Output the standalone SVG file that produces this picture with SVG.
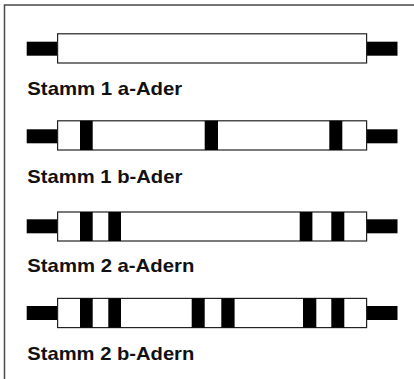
<svg xmlns="http://www.w3.org/2000/svg" width="414" height="379" viewBox="0 0 414 379">
  <style>
    .frame { fill: none; stroke: #4a4a4a; stroke-width: 1.5; }
    .tube { fill: #ffffff; stroke: #222222; stroke-width: 1.2; }
    .stub { fill: #000000; }
    .band { fill: #000000; }
    .label { font-family: "Liberation Sans", Arial, sans-serif; font-weight: bold; font-size: 19px; fill: #111111; }
  </style>
  <rect x="0" y="0" width="414" height="379" fill="#ffffff"/>
  <!-- open frame: top and left edges -->
  <path class="frame" d="M4.5 379 V5 H414"/>

  <!-- cable 1: plain -->
  <g id="stamm1a">
    <rect class="stub" x="26.7" y="41.7" width="31" height="14"/>
    <rect class="stub" x="366.5" y="41.7" width="31" height="14"/>
    <rect class="tube" x="57.6" y="33.8" width="309" height="29.2"/>
    <text class="label" x="27.3" y="95" textLength="155" lengthAdjust="spacingAndGlyphs">Stamm 1 a-Ader</text>
  </g>

  <!-- cable 2: single bands -->
  <g id="stamm1b">
    <rect class="stub" x="26.7" y="129.3" width="31" height="14"/>
    <rect class="stub" x="366.5" y="129.3" width="31" height="14"/>
    <rect class="tube" x="57.6" y="120.8" width="309" height="29.2"/>
    <rect class="band" x="80" y="120.8" width="12.7" height="29.2"/>
    <rect class="band" x="204.7" y="120.8" width="13.3" height="29.2"/>
    <rect class="band" x="329.3" y="120.8" width="13" height="29.2"/>
    <text class="label" x="27.3" y="182.7" textLength="155" lengthAdjust="spacingAndGlyphs">Stamm 1 b-Ader</text>
  </g>

  <!-- cable 3: double bands at both ends -->
  <g id="stamm2a">
    <rect class="stub" x="26.7" y="219.3" width="31" height="14"/>
    <rect class="stub" x="366.5" y="219.3" width="31" height="14"/>
    <rect class="tube" x="57.6" y="212" width="309" height="29"/>
    <rect class="band" x="80" y="212" width="12.7" height="29"/>
    <rect class="band" x="108.3" y="212" width="12.7" height="29"/>
    <rect class="band" x="299.7" y="212" width="12.7" height="29"/>
    <rect class="band" x="331.3" y="212" width="13" height="29"/>
    <text class="label" x="27.3" y="271.7" textLength="167" lengthAdjust="spacingAndGlyphs">Stamm 2 a-Adern</text>
  </g>

  <!-- cable 4: double bands at ends and middle -->
  <g id="stamm2b">
    <rect class="stub" x="26.7" y="306" width="31" height="14"/>
    <rect class="stub" x="366.5" y="306" width="31" height="14"/>
    <rect class="tube" x="57.6" y="298.4" width="309" height="29.2"/>
    <rect class="band" x="80" y="298.4" width="12.7" height="29.2"/>
    <rect class="band" x="108.3" y="298.4" width="12.7" height="29.2"/>
    <rect class="band" x="191.7" y="298.4" width="13" height="29.2"/>
    <rect class="band" x="221.3" y="298.4" width="13.3" height="29.2"/>
    <rect class="band" x="303" y="298.4" width="13.3" height="29.2"/>
    <rect class="band" x="331.3" y="298.4" width="13" height="29.2"/>
    <text class="label" x="27.3" y="360" textLength="167" lengthAdjust="spacingAndGlyphs">Stamm 2 b-Adern</text>
  </g>
</svg>
